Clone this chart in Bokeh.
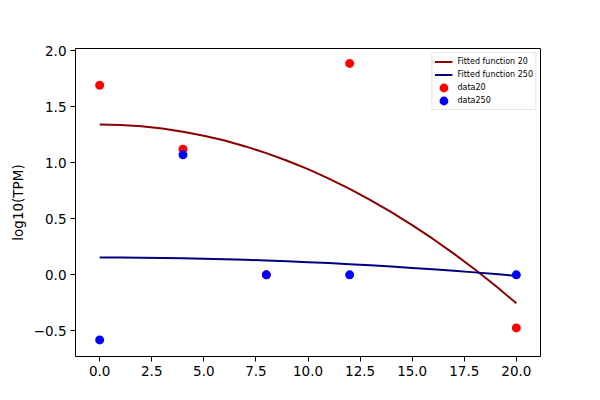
from bokeh.plotting import figure
from bokeh.embed import file_html
from bokeh.resources import INLINE
from bokeh.models import Range1d, FixedTicker, Legend, LegendItem

# data
x_data = [0, 4, 8, 12, 20]
data20 = [1.69, 1.12, 0.0, 1.885, -0.473]
data250 = [-0.58, 1.07, 0.0, 0.0, 0.0]

x_fit = list(range(0, 21))
fit20 = [1.340, 1.336, 1.324, 1.304, 1.276, 1.240, 1.197, 1.145, 1.085, 1.017, 0.942,
         0.858, 0.766, 0.667, 0.559, 0.444, 0.320, 0.189, 0.050, -0.098, -0.253]
fit250 = [0.154, 0.154, 0.152, 0.150, 0.147, 0.144, 0.139, 0.134, 0.128, 0.121, 0.113,
          0.105, 0.095, 0.085, 0.074, 0.062, 0.050, 0.036, 0.022, 0.007, -0.009]

x_ticks = [0, 2.5, 5, 7.5, 10, 12.5, 15, 17.5, 20]
x_tick_labels = ["0.0", "2.5", "5.0", "7.5", "10.0", "12.5", "15.0", "17.5", "20.0"]
y_ticks = [-0.5, 0.0, 0.5, 1.0, 1.5, 2.0]
y_tick_labels = ["\u22120.5", "0.0", "0.5", "1.0", "1.5", "2.0"]

p = figure(width=584, height=384, output_backend="svg", toolbar_location=None,
           x_range=Range1d(-1.16, 21.16), y_range=Range1d(-0.728, 2.018),
           min_border_left=75, min_border_right=44, min_border_top=48, min_border_bottom=28)
p.background_fill_color = "white"
p.border_fill_color = "white"
p.outline_line_color = "black"
p.outline_line_width = 1
p.grid.visible = False

r1 = p.line(x_fit, fit20, line_color="#8B0000", line_width=2)
r2 = p.line(x_fit, fit250, line_color="#000080", line_width=2)
r3 = p.scatter(x_data, data20, size=5.4, line_width=3.6, fill_color="red", line_color="red")
r4 = p.scatter(x_data, data250, size=5.4, line_width=3.6, fill_color="blue", line_color="blue")

for ax in (p.xaxis[0], p.yaxis[0]):
    ax.major_tick_out = 5
    ax.major_tick_in = 0
    ax.minor_tick_line_color = None
    ax.axis_line_color = None
    ax.major_tick_line_color = "black"
    ax.major_label_text_font = "DejaVu Sans"
    ax.major_label_text_font_size = "13.5px"
    ax.major_label_text_color = "black"
    ax.major_label_standoff = 4

p.xaxis[0].ticker = FixedTicker(ticks=x_ticks)
p.xaxis[0].major_label_overrides = {t: l for t, l in zip(x_ticks, x_tick_labels)}
p.yaxis[0].ticker = FixedTicker(ticks=y_ticks)
p.yaxis[0].major_label_overrides = {t: l for t, l in zip(y_ticks, y_tick_labels)}
p.yaxis[0].axis_label = "log10(TPM)"
p.yaxis[0].axis_label_text_font = "DejaVu Sans"
p.yaxis[0].axis_label_text_font_size = "13.5px"
p.yaxis[0].axis_label_text_font_style = "normal"
p.yaxis[0].axis_label_text_color = "black"
p.yaxis[0].axis_label_standoff = 5

legend = Legend(items=[
    LegendItem(label="Fitted function 20", renderers=[r1]),
    LegendItem(label="Fitted function 250", renderers=[r2]),
    LegendItem(label="data20", renderers=[r3]),
    LegendItem(label="data250", renderers=[r4]),
], location="top_right")
legend.margin = 4
legend.padding = 2
legend.spacing = 0
legend.label_text_font = "DejaVu Sans"
legend.label_text_font_size = "8px"
legend.label_text_color = "black"
legend.label_height = 13
legend.glyph_height = 13
legend.glyph_width = 18
legend.label_standoff = 5
legend.border_line_color = "#cccccc"
legend.border_line_width = 1
legend.background_fill_alpha = 0.8
p.add_layout(legend)

open("out.html", "w").write(file_html(p, INLINE))
